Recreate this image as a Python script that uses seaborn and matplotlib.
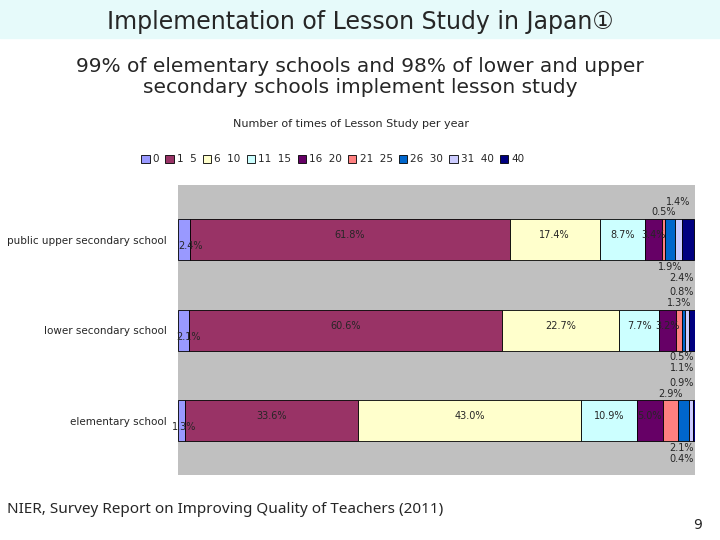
import matplotlib
matplotlib.use("Agg")
import matplotlib.pyplot as plt
import seaborn as sns
import numpy as np

sns.set_style("white")
plt.rcParams['font.family'] = ['DejaVu Sans', 'Noto Sans CJK JP']

schools = ["public upper secondary school", "lower secondary school", "elementary school"]
bins = ["0", "1  5", "6  10", "11  15", "16  20", "21  25", "26  30", "31  40", "40"]
upper = [2.4, 61.8, 17.4, 8.7, 3.4, 0.5, 1.9, 1.4, 2.4]
lower = [2.1, 60.6, 22.7, 7.7, 3.2, 1.3, 0.5, 0.8, 1.1]
elem = [1.3, 33.6, 43.0, 10.9, 5.0, 2.9, 2.1, 0.9, 0.4]
colors = ["#9999FF", "#993366", "#FFFFCC", "#CCFFFF", "#660066", "#FF8080", "#0066CC", "#CCCCFF", "#000080"]

data = [upper, lower, elem]
fig = plt.figure(figsize=(7.2, 5.4), dpi=100)
fig.patches.append(plt.Rectangle((0, 1 - 38/540), 1, 38/540, transform=fig.transFigure, color="#E6FAFA", zorder=0))
fig.text(0.5, 0.96, "Implementation of Lesson Study in Japan①", ha="center", va="center", fontsize=17,
         family=['DejaVu Sans', 'Noto Sans CJK JP'])
fig.text(0.5, 0.857, "99% of elementary schools and 98% of lower and upper\nsecondary schools implement lesson study",
         ha="center", va="center", fontsize=14.5, linespacing=1.1)
fig.text(0.487, 0.77, "Number of times of Lesson Study per year", ha="center", va="center", fontsize=8)
fig.text(0.01, 0.05, "NIER, Survey Report on Improving Quality of Teachers (2011)", fontsize=11, family="Noto Sans")
fig.text(0.975, 0.02, "9", ha="right", fontsize=10)

ax = fig.add_axes([0.247, 0.12, 0.718, 0.537])
ax.set_facecolor("#C0C0C0")
y = np.arange(len(schools))
for si, row in enumerate(data):
    left = 0
    flip = 0
    for bi, v in enumerate(row):
        ax.barh(si, v, left=left, height=0.45, color=colors[bi], edgecolor="black", linewidth=0.6,
                label=bins[bi] if si == 0 else None)
        c = left + v / 2
        if bi == 0:
            ax.text(left + v, si + 0.07, f"{v}%", ha="center", va="center", fontsize=7)
        elif v >= 3:
            ax.text(c, si - 0.05, f"{v}%", ha="center", va="center", fontsize=7)
        else:
            side = -1 if flip % 2 == 0 else 1
            tier = flip // 2
            off = side * (0.3 + 0.12 * tier)
            ax.text(min(c, 97.5), si + off, f"{v}%", ha="center", va="center", fontsize=7)
            flip += 1
        left += v
ax.set_xlim(0, 100)
ax.set_ylim(2.6, -0.6)
ax.set_yticks(y)
ax.set_yticklabels(schools, fontsize=7.5)
ax.tick_params(axis="y", length=0, pad=8)
ax.set_xticks([])
for s in ax.spines.values():
    s.set_visible(False)
ax.legend(loc="lower center", bbox_to_anchor=(0.3, 1.04), ncol=9, fontsize=7.5, frameon=False,
          handlelength=0.8, handleheight=0.8, handletextpad=0.3, columnspacing=0.6)
fig.savefig("out.png", dpi=100)
